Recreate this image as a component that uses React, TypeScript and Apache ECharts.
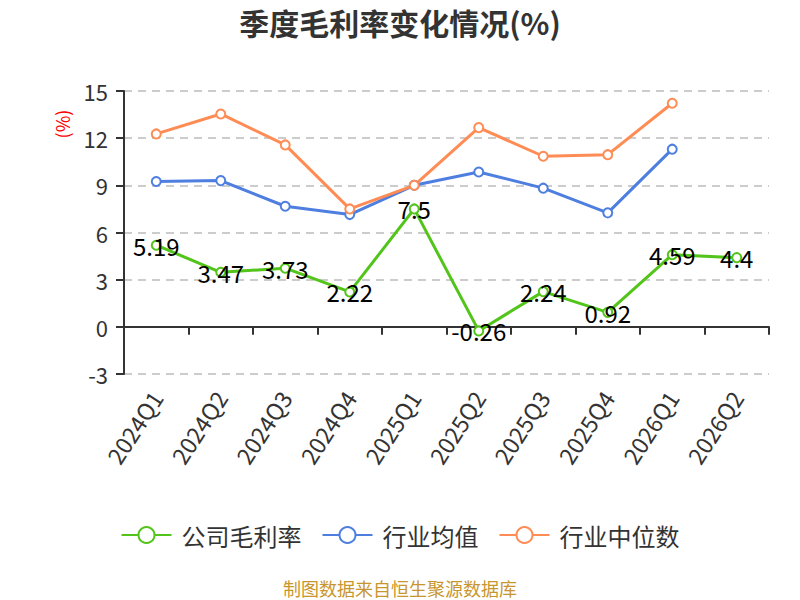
import React, { useEffect, useRef } from "react";
import * as echarts from "echarts";

const categories = ["2024Q1", "2024Q2", "2024Q3", "2024Q4", "2025Q1", "2025Q2", "2025Q3", "2025Q4", "2026Q1", "2026Q2"];
const companyValues = [5.19, 3.47, 3.73, 2.22, 7.5, -0.26, 2.24, 0.92, 4.59, 4.4];
const industryAvg = [9.24, 9.3, 7.67, 7.14, 9.0, 9.85, 8.82, 7.25, 11.3, null];
const industryMedian = [12.27, 13.54, 11.57, 7.5, 9.0, 12.67, 10.85, 10.95, 14.22, null];
const seriesNames = ["公司毛利率", "行业均值", "行业中位数"];
const colors = ["#52c41a", "#4e7fe0", "#ff8c55"];

const FONT = "Noto Sans CJK SC";

export default function App() {
  const ref = useRef<HTMLDivElement>(null);
  useEffect(() => {
    if (!ref.current) return;
    const chart = echarts.init(ref.current, null, { renderer: "svg" });
    const mk = (i: number, data: (number | null)[], label: boolean) => ({
      name: seriesNames[i],
      type: "line",
      data,
      symbol: "emptyCircle",
      symbolSize: 9,
      connectNulls: false,
      itemStyle: { color: colors[i], borderWidth: 2 },
      lineStyle: { color: colors[i], width: 3 },
      label: label
        ? { show: true, position: "inside", color: "#000", fontSize: 24, fontFamily: FONT }
        : { show: false },
      z: label ? 3 : 2,
    });
    chart.setOption({
      animation: false,
      textStyle: { fontFamily: FONT },
      title: {
        text: "季度毛利率变化情况(%)",
        left: "center",
        top: 2,
        textStyle: { fontSize: 30, fontWeight: "bold", color: "#333", fontFamily: FONT },
      },
      legend: {
        data: seriesNames,
        bottom: 48,
        left: "center",
        itemWidth: 50,
        itemHeight: 20,
        itemGap: 20,
        textStyle: { fontSize: 24, color: "#333", fontFamily: FONT, padding: [0, 0, 0, 5] },
      },
      grid: { left: 124, right: 31, top: 91, bottom: 226 },
      xAxis: {
        type: "category",
        data: categories,
        boundaryGap: true,
        axisLine: { onZero: true, lineStyle: { color: "#333", width: 2 } },
        axisTick: { show: true, length: 8, lineStyle: { color: "#333", width: 2 } },
        axisLabel: {
          rotate: 57,
          fontSize: 23,
          color: "#333",
          margin: 19,
          fontFamily: FONT,
        },
      },
      yAxis: {
        type: "value",
        min: -3,
        max: 15,
        interval: 3,
        axisLine: { show: true, lineStyle: { color: "#333", width: 2 } },
        axisTick: { show: true, length: 8, lineStyle: { color: "#333", width: 2 } },
        axisLabel: { fontSize: 22, color: "#333", margin: 16, fontFamily: FONT },
        splitLine: { show: true, lineStyle: { color: "#ccc", type: [8, 6], width: 2 } },
      },
      graphic: [
        {
          type: "text",
          x: 62,
          y: 124,
          rotation: Math.PI / 2,
          style: {
            text: "(%)",
            fill: "#ff0000",
            fontSize: 18,
            fontFamily: FONT,
            textAlign: "center",
            textVerticalAlign: "middle",
          },
        },
        {
          type: "text",
          left: "center",
          bottom: 3,
          style: {
            text: "制图数据来自恒生聚源数据库",
            fill: "#c8962e",
            fontSize: 18,
            fontFamily: FONT,
          },
        },
      ],
      series: [mk(0, companyValues, true), mk(1, industryAvg, false), mk(2, industryMedian, false)],
    });
    return () => chart.dispose();
  }, []);
  return (
    <div
      ref={ref}
      style={{ position: "absolute", left: 0, top: 0, width: 800, height: 600, overflow: "hidden" }}
    />
  );
}
